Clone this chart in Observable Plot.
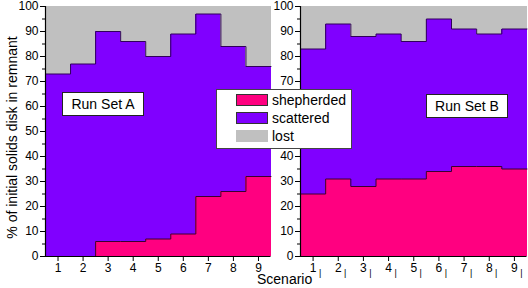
<!DOCTYPE html>
<html><head><meta charset="utf-8">
<script src="https://cdn.jsdelivr.net/npm/d3@7"></script>
<script src="https://cdn.jsdelivr.net/npm/@observablehq/plot@0.6"></script>
<style>
body{margin:0;background:#fff;font-family:Arial,"Liberation Sans",sans-serif}
#wrap{position:relative;width:528px;height:288px;overflow:hidden}
.plot{position:absolute;top:0}
.box{position:absolute;background:#fff;border:1px solid #222;font-size:14px;color:#000;box-sizing:border-box}
.lab{display:flex;align-items:center;justify-content:center}
.sw{position:absolute;width:32px;height:12px;box-sizing:border-box}
.lt{position:absolute;font-size:14px;line-height:16px}
</style></head>
<body>
<div id="wrap"></div>
<script>
const scenarios = [1,2,3,4,5,6,7,8,9];
const shepherdedA = [0,0,6,6,7,9,24,26,32];
const scatteredA = [73,77,84,80,73,80,73,58,44];
const shepherdedB = [25,31,28,31,31,34,36,36,35];
const scatteredB = [58,62,60,58,55,61,55,53,56];
const seriesNames = ["shepherded","scattered","lost"];
const seriesColors = ["#FF0080","#8000FF","#C0C0C0"];
const yTicks = [0,10,20,30,40,50,60,70,80,90,100];
const yMinor = [5,15,25,35,45,55,65,75,85,95];
const panelLabels = ["Run Set A","Run Set B"];
const yTitle = "% of initial solids disk in remnant";
const xTitle = "Scenario";

const wrap = document.getElementById("wrap");

function makeRows(sh, sc){
  const rows = [];
  scenarios.forEach((s,i)=>{
    const a = sh[i], b = sh[i]+sc[i];
    rows.push({s, series:"shepherded", y1:0, y2:a});
    rows.push({s, series:"scattered", y1:a, y2:b});
    rows.push({s, series:"lost", y1:b, y2:100});
  });
  return rows;
}
function stepPts(vals){
  const pts = [];
  scenarios.forEach((s,i)=>{ pts.push({x:s-0.5,y:vals[i]}); pts.push({x:s+0.5,y:vals[i]}); });
  return pts;
}

function panel(sh, sc, opts){
  const tops = sh.map((v,i)=>v+sc[i]);
  const marks = [
    Plot.rectY(makeRows(sh,sc), {x1:d=>d.s-0.5, x2:d=>d.s+0.5, y1:"y1", y2:"y2", fill:"series", inset:0, shapeRendering:"crispEdges"}),
    Plot.line(stepPts(sh), {x:"x", y:"y", stroke:"#3a0030", strokeWidth:1}),
    Plot.line(stepPts(tops), {x:"x", y:"y", stroke:"#30005a", strokeWidth:1}),
    Plot.ruleX([0.5], {stroke:"#000", strokeWidth:1.2}),
    Plot.ruleY([0], {stroke:"#000", strokeWidth:1.2}),
    Plot.axisY({ticks:yTicks, tickSize:5, tickPadding:2, fontSize:12}),
    Plot.axisY({ticks:yMinor, tickSize:3, tickFormat:()=>"" }),
    Plot.axisX({ticks:scenarios, tickSize:5, tickPadding:2, fontSize:12, label:null})
  ];
  if (opts.bars) marks.push(Plot.text(scenarios, {x:d=>d, text:()=>"|", frameAnchor:"bottom", dy:19, dx:7, fontSize:9}));
  if (opts.ytitle) marks.push(Plot.text([yTitle], {frameAnchor:"left", textAnchor:"middle", dx:-33, dy:6, rotate:-90, fontSize:14, text:d=>d}));
  return Plot.plot({
    width: opts.width, height: 288,
    marginLeft: opts.ml, marginRight: 1.5, marginTop: 6, marginBottom: 32,
    style: {fontFamily:"Arial, 'Liberation Sans', sans-serif", fontSize:"12px", background:"transparent", color:"#000", overflow:"visible"},
    x: {domain:[0.5,9.5], label:null, axis:null},
    y: {domain:[0,100], label:null, axis:null},
    color: {domain: seriesNames, range: seriesColors},
    marks
  });
}

const pA = panel(shepherdedA, scatteredA, {width:272, ml:45, ytitle:true});
pA.classList.add("plot"); pA.style.left = "0px";
wrap.appendChild(pA);
const pB = panel(shepherdedB, scatteredB, {width:256, ml:28, bars:true});
pB.classList.add("plot"); pB.style.left = "272px";
wrap.appendChild(pB);

function addBox(txt, left, top){
  const d = document.createElement("div");
  d.className = "box lab";
  Object.assign(d.style, {left:left+"px", top:top+"px", width:"82px", height:"24px"});
  d.textContent = txt;
  wrap.appendChild(d);
}
addBox(panelLabels[0], 62, 92);
addBox(panelLabels[1], 426, 94);

const lg = document.createElement("div");
lg.className = "box";
Object.assign(lg.style, {left:"216px", top:"89px", width:"136px", height:"60px", borderColor:"#444"});
seriesNames.forEach((n,i)=>{
  const sw = document.createElement("div");
  sw.className = "sw";
  Object.assign(sw.style, {left:"19px", top:(4+i*18)+"px", background:seriesColors[i], border: i<2 ? "1px solid #333" : "none"});
  lg.appendChild(sw);
  const t = document.createElement("div");
  t.className = "lt";
  Object.assign(t.style, {left:"55px", top:(2+i*18)+"px"});
  t.textContent = n;
  lg.appendChild(t);
});
wrap.appendChild(lg);

const xt = document.createElement("div");
Object.assign(xt.style, {position:"absolute", left:"257px", top:"271px", fontSize:"14px", lineHeight:"16px"});
xt.textContent = xTitle;
wrap.appendChild(xt);
</script>
</body></html>
